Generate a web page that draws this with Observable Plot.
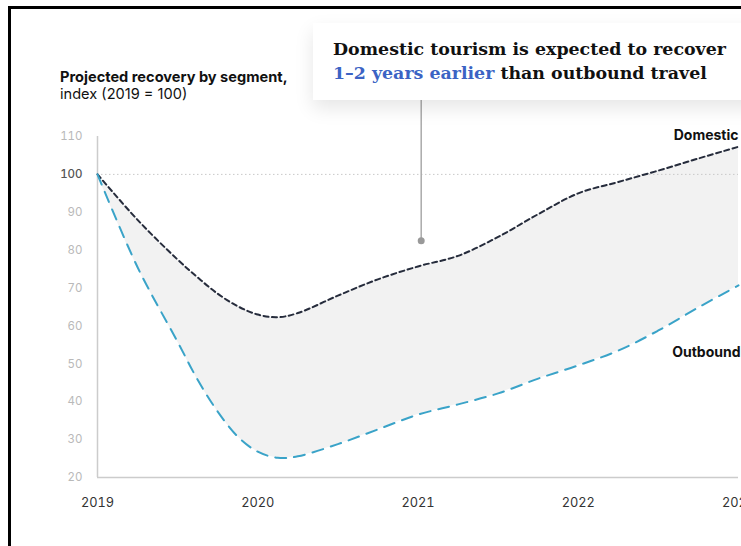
<!DOCTYPE html>
<html><head><meta charset="utf-8">
<script src="https://cdn.jsdelivr.net/npm/d3@7"></script>
<script src="https://cdn.jsdelivr.net/npm/@observablehq/plot@0.6"></script>
<style>
html,body{margin:0;padding:0;background:#fff;overflow:hidden;width:741px;height:546px;}
#wrap{position:relative;width:741px;height:546px;overflow:hidden;font-family:Inter, sans-serif;}
#frame{position:absolute;left:8px;top:6px;width:900px;height:700px;border-left:3px solid #000;border-top:3px solid #000;}
#chart{position:absolute;left:0;top:0;width:800px;}
#chart svg{max-width:none !important;width:800px !important;height:546px !important;}
#title{position:absolute;left:60px;top:69px;font-size:14.6px;line-height:17px;color:#111;white-space:nowrap;}
#title b{font-weight:700}
#callout{position:absolute;left:313px;top:23px;width:520px;height:77px;background:#fff;box-shadow:0 8px 18px rgba(0,0,0,0.10);}
#callout div{position:absolute;left:20px;top:14px;font-family:"DejaVu Serif",serif;font-weight:bold;font-size:17.4px;line-height:24px;color:#111;white-space:nowrap;}
.hl{color:#3b63c4}
</style></head><body>
<div id="wrap">
<div id="chart"></div>
<div id="frame"></div>
<div id="title"><b>Projected recovery by segment,</b><br>index (2019 = 100)</div>
<div id="callout"><div>Domestic tourism is expected to recover<br><span class="hl">1–2 years earlier</span> than outbound travel</div></div>
</div>
<script>
const years    = [2019, 2019.25, 2019.5, 2019.625, 2019.75, 2019.875, 2020, 2020.125, 2020.25, 2020.5, 2020.75, 2021, 2021.25, 2021.5, 2021.75, 2022, 2022.25, 2022.5, 2022.75, 2023];
const domestic = [100, 88, 77.5, 72.8, 68.5, 65.2, 63, 62.3, 63.4, 68, 72.3, 75.7, 78.5, 83.5, 89.5, 95, 98, 101, 104.2, 107.3];
const outbound = [100, 75.5, 55.8, 45.8, 37.4, 30.8, 26.8, 25.2, 25.6, 28.8, 32.7, 36.6, 39.3, 42.2, 46.1, 49.6, 53.5, 58.8, 64.9, 70.7];
const xTicks = [2019, 2020, 2021, 2022, 2023];
const yTicks = [20, 30, 40, 50, 60, 70, 80, 90, 100, 110];
const seriesNames = ["Domestic", "Outbound"];
const callout = {year: 2021.02, value: 82.5, top: 120};

const data = years.map((y, i) => ({year: y, domestic: domestic[i], outbound: outbound[i]}));
const last = data[data.length - 1];
const curve = "catmull-rom";

const chart = Plot.plot({
  width: 800,
  height: 546,
  marginTop: 136,
  marginBottom: 69,
  marginLeft: 97,
  marginRight: 62,
  style: {background: "transparent", fontFamily: "Inter, sans-serif", maxWidth: "none"},
  x: {domain: [2019, 2023]},
  y: {domain: [20, 110]},
  marks: [
    Plot.areaY(data, {x: "year", y1: "outbound", y2: "domestic", fill: "#f2f2f2", curve}),
    Plot.ruleY([100], {stroke: "#c8c8c8", strokeDasharray: "1.5,2.5", strokeWidth: 1}),
    Plot.ruleX([callout], {x: "year", y1: "value", y2: "top", stroke: "#aaa", strokeWidth: 1.5, clip: false}),
    Plot.dot([callout], {x: "year", y: "value", r: 3.5, fill: "#999", stroke: "none"}),
    Plot.ruleY([20], {stroke: "#ccc", strokeWidth: 1.5}),
    Plot.ruleX([2019], {stroke: "#ccc", strokeWidth: 1.5}),
    Plot.line(data, {x: "year", y: "domestic", stroke: "#262c3c", strokeWidth: 2, strokeDasharray: "5,3.5", curve}),
    Plot.line(data, {x: "year", y: "outbound", stroke: "#3aa3c8", strokeWidth: 2, strokeDasharray: "11,8", curve}),
    Plot.axisY(yTicks.filter(d => d !== 100), {tickSize: 0, tickPadding: 15, fontSize: 11.5, color: "#b9b9b9", label: null}),
    Plot.axisY([100], {tickSize: 0, tickPadding: 15, fontSize: 11.5, color: "#555", fontWeight: 500, label: null}),
    Plot.axisX(xTicks, {tickSize: 0, tickPadding: 20, fontSize: 12.8, color: "#333", tickFormat: d => String(d), label: null}),
    Plot.text([seriesNames[0]], {x: () => last.year, y: () => last.domestic, text: d => d, textAnchor: "end", dy: -11, dx: 0, fontSize: 14, fontWeight: 700, fill: "#111"}),
    Plot.text([seriesNames[1]], {x: () => last.year, y: () => last.outbound, text: d => d, textAnchor: "end", dy: 67, dx: 2, fontSize: 14, fontWeight: 700, fill: "#111"})
  ]
});
document.getElementById("chart").appendChild(chart);
</script>
</body></html>
